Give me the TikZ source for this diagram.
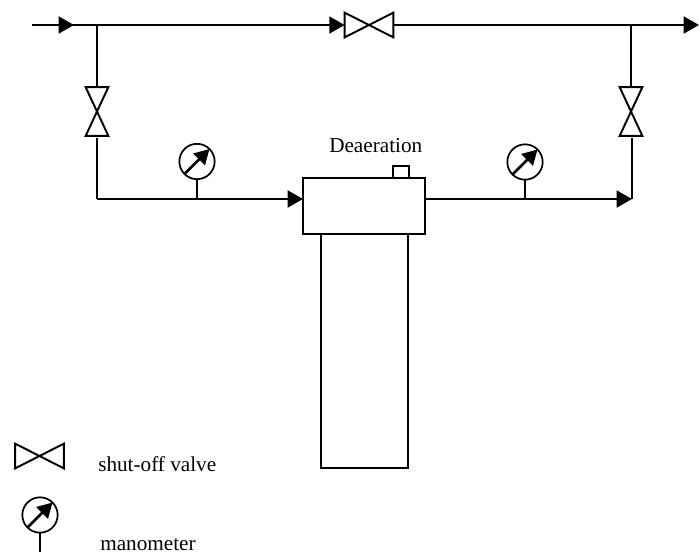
\documentclass[tikz,border=0pt]{standalone}
\usepackage{fontspec}
\setmainfont{Liberation Serif}
\usetikzlibrary{arrows.meta}
\tikzset{
  x=0.75pt,y=-0.75pt,
  pipe/.style={line width=2.1pt,black},
  branch/.style={line width=1.45pt,black},
  flow/.style={-{Triangle[length=11.5pt,width=12.5pt]}},
  outline/.style={draw=black,line width=1.45pt,fill=white,inner sep=0pt,outer sep=0pt,rectangle},
  valvehoriz/.style={inner sep=0pt,outer sep=0pt,minimum width=36.5pt,minimum height=18.5pt},
  valvevert/.style={inner sep=0pt,outer sep=0pt,minimum width=17pt,minimum height=36.5pt},
  bowtie/.style={line width=1.45pt,black,line join=miter},
  gauge/.style={circle,draw=black,line width=1.3pt,inner sep=0pt,outer sep=0pt,minimum size=26.5pt},
  needle/.style={line width=2pt,black,-{Triangle[length=11pt,width=12pt]}},
  label/.style={inner sep=0pt,font=\fontsize{15.9pt}{18pt}\selectfont}
}
\begin{document}
\begin{tikzpicture}
\useasboundingbox (0,0) rectangle (699,554);
% junction and end coordinates
\coordinate (inlet) at (32,25);
\coordinate (inarrow) at (74,25);
\coordinate (outlet) at (699,25);
\coordinate (jl) at (97,25);
\coordinate (jr) at (631,25);
\coordinate (cl) at (97,199);
\coordinate (cr) at (632,199);
\coordinate (hl) at (303,199);
\coordinate (hr) at (425,199);
\coordinate (tl) at (197,199);
\coordinate (tr) at (525,199);
\coordinate (vls) at (97,138);
\coordinate (vrs) at (632,138);
\coordinate (legendend) at (40,552);
% valves
\node[valvehoriz] (vtop) at (369,25) {};
\node[valvevert] (vleft) at (97,111.5) {};
\node[valvevert] (vright) at (631,111.5) {};
\node[valvehoriz] (vleg) at (39.5,456) {};
% vessel
\node[outline,minimum width=65pt,minimum height=175.5pt] (tank) at (364.5,351) {};
\node[outline,minimum width=91.5pt,minimum height=42pt] (head) at (364,206) {};
\node[outline,minimum width=12pt,minimum height=9pt] (vent) at (401,172) {};
% gauges
\node[gauge] (g1) at (197,161.5) {};
\node[gauge] (g2) at (525,162) {};
\node[gauge] (g3) at (40,515) {};
% pipes
\draw[pipe] (inlet) -- (jl);
\draw[pipe,flow] (inlet) -- (inarrow);
\draw[pipe,flow] (jl) -- (vtop.west);
\draw[pipe] (vtop.east) -- (jr);
\draw[pipe,flow] (jr) -- (outlet);
\draw[branch] (jl) -- (vleft.north);
\draw[branch] (vls) -- (cl);
\draw[branch] (jr) -- (vright.north);
\draw[branch] (vrs) -- (cr);
\draw[pipe,flow] (cl) -- (hl);
\draw[pipe,flow] (hr) -- (cr);
\draw[branch] (g1.south) -- (tl);
\draw[branch] (g2.south) -- (tr);
\draw[branch] (g3.south) -- (legendend);
% valve bodies
\draw[bowtie] (vtop.north west) -- (vtop.south east) -- (vtop.north east) -- (vtop.south west) -- cycle;
\draw[bowtie] (vleg.north west) -- (vleg.south east) -- (vleg.north east) -- (vleg.south west) -- cycle;
\draw[bowtie] (vleft.north west) -- (vleft.north east) -- (vleft.south west) -- (vleft.south east) -- cycle;
\draw[bowtie] (vright.north west) -- (vright.north east) -- (vright.south west) -- (vright.south east) -- cycle;
% gauge needles
\draw[needle] (g1.225) -- (g1.45);
\draw[needle] (g2.225) -- (g2.45);
\draw[needle] (g3.225) -- (g3.45);
% labels
\node[label,anchor=base west] (ldea) at (329,152) {Deaeration};
\node[label,anchor=base west] (lval) at (98,471) {shut-off valve};
\node[label,anchor=base west] (lman) at (100,550.5) {manometer};
\end{tikzpicture}
\end{document}
